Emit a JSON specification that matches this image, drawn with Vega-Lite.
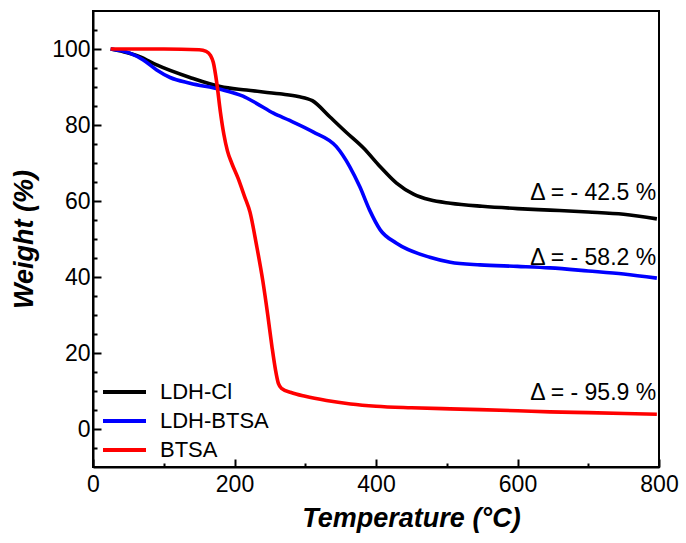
{
  "$schema": "https://vega.github.io/schema/vega-lite/v6.json",
  "autosize": "none",
  "width": 566,
  "height": 456,
  "padding": {"left": 93, "top": 11, "right": 27, "bottom": 76},
  "background": "white",
  "config": {
    "view": {"stroke": "black", "strokeWidth": 2},
    "font": "Liberation Sans"
  },
  "datasets": {
    "curves": [
      {"s": "LDH-Cl", "T": 25, "W": 100},
      {"s": "LDH-Cl", "T": 43, "W": 99.3},
      {"s": "LDH-Cl", "T": 66, "W": 98.0},
      {"s": "LDH-Cl", "T": 90, "W": 95.8},
      {"s": "LDH-Cl", "T": 137, "W": 92.5},
      {"s": "LDH-Cl", "T": 180, "W": 90.1},
      {"s": "LDH-Cl", "T": 217, "W": 89.2},
      {"s": "LDH-Cl", "T": 264, "W": 88.2},
      {"s": "LDH-Cl", "T": 290, "W": 87.5},
      {"s": "LDH-Cl", "T": 310, "W": 86.4},
      {"s": "LDH-Cl", "T": 335, "W": 82.1},
      {"s": "LDH-Cl", "T": 359, "W": 77.9},
      {"s": "LDH-Cl", "T": 382, "W": 74.0},
      {"s": "LDH-Cl", "T": 406, "W": 69.0},
      {"s": "LDH-Cl", "T": 429, "W": 64.7},
      {"s": "LDH-Cl", "T": 453, "W": 61.8},
      {"s": "LDH-Cl", "T": 476, "W": 60.3},
      {"s": "LDH-Cl", "T": 505, "W": 59.4},
      {"s": "LDH-Cl", "T": 550, "W": 58.6},
      {"s": "LDH-Cl", "T": 600, "W": 58.0},
      {"s": "LDH-Cl", "T": 646, "W": 57.6},
      {"s": "LDH-Cl", "T": 700, "W": 57.1},
      {"s": "LDH-Cl", "T": 750, "W": 56.5},
      {"s": "LDH-Cl", "T": 797, "W": 55.3},
      {"s": "LDH-BTSA", "T": 25, "W": 100},
      {"s": "LDH-BTSA", "T": 52, "W": 98.9},
      {"s": "LDH-BTSA", "T": 71, "W": 97.1},
      {"s": "LDH-BTSA", "T": 90, "W": 94.5},
      {"s": "LDH-BTSA", "T": 109, "W": 92.5},
      {"s": "LDH-BTSA", "T": 137, "W": 91.0},
      {"s": "LDH-BTSA", "T": 180, "W": 89.4},
      {"s": "LDH-BTSA", "T": 212, "W": 87.6},
      {"s": "LDH-BTSA", "T": 231, "W": 85.7},
      {"s": "LDH-BTSA", "T": 255, "W": 83.1},
      {"s": "LDH-BTSA", "T": 278, "W": 81.2},
      {"s": "LDH-BTSA", "T": 311, "W": 78.2},
      {"s": "LDH-BTSA", "T": 344, "W": 74.3},
      {"s": "LDH-BTSA", "T": 363, "W": 69.0},
      {"s": "LDH-BTSA", "T": 377, "W": 63.8},
      {"s": "LDH-BTSA", "T": 391, "W": 57.6},
      {"s": "LDH-BTSA", "T": 406, "W": 52.4},
      {"s": "LDH-BTSA", "T": 429, "W": 48.9},
      {"s": "LDH-BTSA", "T": 476, "W": 45.2},
      {"s": "LDH-BTSA", "T": 505, "W": 43.9},
      {"s": "LDH-BTSA", "T": 547, "W": 43.2},
      {"s": "LDH-BTSA", "T": 600, "W": 42.8},
      {"s": "LDH-BTSA", "T": 646, "W": 42.4},
      {"s": "LDH-BTSA", "T": 700, "W": 41.6},
      {"s": "LDH-BTSA", "T": 750, "W": 40.8},
      {"s": "LDH-BTSA", "T": 797, "W": 39.7},
      {"s": "BTSA", "T": 25, "W": 100},
      {"s": "BTSA", "T": 100, "W": 100},
      {"s": "BTSA", "T": 150, "W": 99.8},
      {"s": "BTSA", "T": 160, "W": 99.4},
      {"s": "BTSA", "T": 166, "W": 98.3},
      {"s": "BTSA", "T": 170, "W": 96.5},
      {"s": "BTSA", "T": 175, "W": 91.0},
      {"s": "BTSA", "T": 180, "W": 83.5},
      {"s": "BTSA", "T": 185, "W": 77.5},
      {"s": "BTSA", "T": 190, "W": 73.2},
      {"s": "BTSA", "T": 196, "W": 70.0},
      {"s": "BTSA", "T": 205, "W": 66.0},
      {"s": "BTSA", "T": 214, "W": 61.3},
      {"s": "BTSA", "T": 222, "W": 57.0},
      {"s": "BTSA", "T": 231, "W": 48.5},
      {"s": "BTSA", "T": 240, "W": 39.0},
      {"s": "BTSA", "T": 247, "W": 30.0},
      {"s": "BTSA", "T": 253, "W": 21.6},
      {"s": "BTSA", "T": 258, "W": 15.5},
      {"s": "BTSA", "T": 262, "W": 12.0},
      {"s": "BTSA", "T": 267, "W": 10.6},
      {"s": "BTSA", "T": 280, "W": 9.6},
      {"s": "BTSA", "T": 300, "W": 8.6},
      {"s": "BTSA", "T": 330, "W": 7.5},
      {"s": "BTSA", "T": 364, "W": 6.6},
      {"s": "BTSA", "T": 400, "W": 6.0},
      {"s": "BTSA", "T": 450, "W": 5.6},
      {"s": "BTSA", "T": 505, "W": 5.3},
      {"s": "BTSA", "T": 600, "W": 4.8},
      {"s": "BTSA", "T": 646, "W": 4.5},
      {"s": "BTSA", "T": 700, "W": 4.3},
      {"s": "BTSA", "T": 797, "W": 3.9}
    ],
    "notes": [
      {"T": 796, "W": 62.1, "label": "Δ = - 42.5 %"},
      {"T": 796, "W": 45.0, "label": "Δ = - 58.2 %"},
      {"T": 796, "W": 9.6, "label": "Δ = - 95.9 %"}
    ]
  },
  "resolve": {"axis": {"y": "independent"}},
  "layer": [
    {
      "data": {"name": "curves"},
      "mark": {"type": "line", "strokeWidth": 3.6, "interpolate": "monotone"},
      "encoding": {
        "x": {
          "field": "T", "type": "quantitative",
          "scale": {"domain": [0, 800], "nice": false, "zero": false},
          "axis": {
            "title": "Temperature (°C)",
            "titleFont": "Liberation Sans", "titleFontSize": 27, "titleFontWeight": "bold", "titleFontStyle": "italic",
            "titleColor": "black", "titlePadding": 5, "titleX": 318,
            "values": [0, 50, 100, 150, 200, 250, 300, 350, 400, 450, 500, 550, 600, 650, 700, 750, 800],
            "labelExpr": "datum.value % 200 === 0 ? datum.label : ''",
            "labelOverlap": false,
            "labelFontSize": 23, "labelColor": "black", "labelPadding": 14, "labelFlush": false,
            "tickColor": "black", "tickWidth": 2,
            "tickSize": {"condition": {"test": "datum.value % 200 === 0", "value": -8}, "value": -4},
            "domainColor": "black", "domainWidth": 2, "grid": false
          }
        },
        "y": {
          "field": "W", "type": "quantitative",
          "scale": {"domain": [-10, 110], "nice": false, "zero": false},
          "axis": {
            "orient": "left",
            "title": "Weight (%)",
            "titleFont": "Liberation Sans", "titleFontSize": 27, "titleFontWeight": "bold", "titleFontStyle": "italic",
            "titleColor": "black", "titlePadding": 13,
            "values": [0, 20, 40, 60, 80, 100],
            "labelOverlap": false,
            "labelFontSize": 23, "labelColor": "black", "labelPadding": 11,
            "tickColor": "black", "tickWidth": 2,
            "tickSize": -8,
            "domainColor": "black", "domainWidth": 2, "grid": false
          }
        },
        "color": {
          "field": "s", "type": "nominal",
          "scale": {"domain": ["LDH-Cl", "LDH-BTSA", "BTSA"], "range": ["#000000", "#0000ff", "#ff0000"]},
          "legend": {
            "title": null, "orient": "none", "legendX": 8, "legendY": 371,
            "symbolType": "stroke", "symbolSize": 1849, "symbolStrokeWidth": 4,
            "labelFontSize": 22, "labelColor": "black", "labelOffset": 12,
            "rowPadding": 7, "clipHeight": 20
          }
        },
        "order": {"field": "T", "type": "quantitative"}
      }
    },
    {
      "data": {"name": "notes"},
      "mark": {"type": "text", "align": "right", "baseline": "middle", "fontSize": 23, "color": "black"},
      "encoding": {
        "x": {"field": "T", "type": "quantitative"},
        "y": {
          "field": "W", "type": "quantitative",
          "axis": {
            "orient": "left", "title": null, "labels": false, "domain": false, "grid": false,
            "values": [-5, 5, 10, 15, 25, 30, 35, 45, 50, 55, 65, 70, 75, 85, 90, 95, 105],
            "tickColor": "black", "tickWidth": 2, "tickSize": -4, "offset": 0
          }
        },
        "text": {"field": "label"}
      }
    }
  ]
}
